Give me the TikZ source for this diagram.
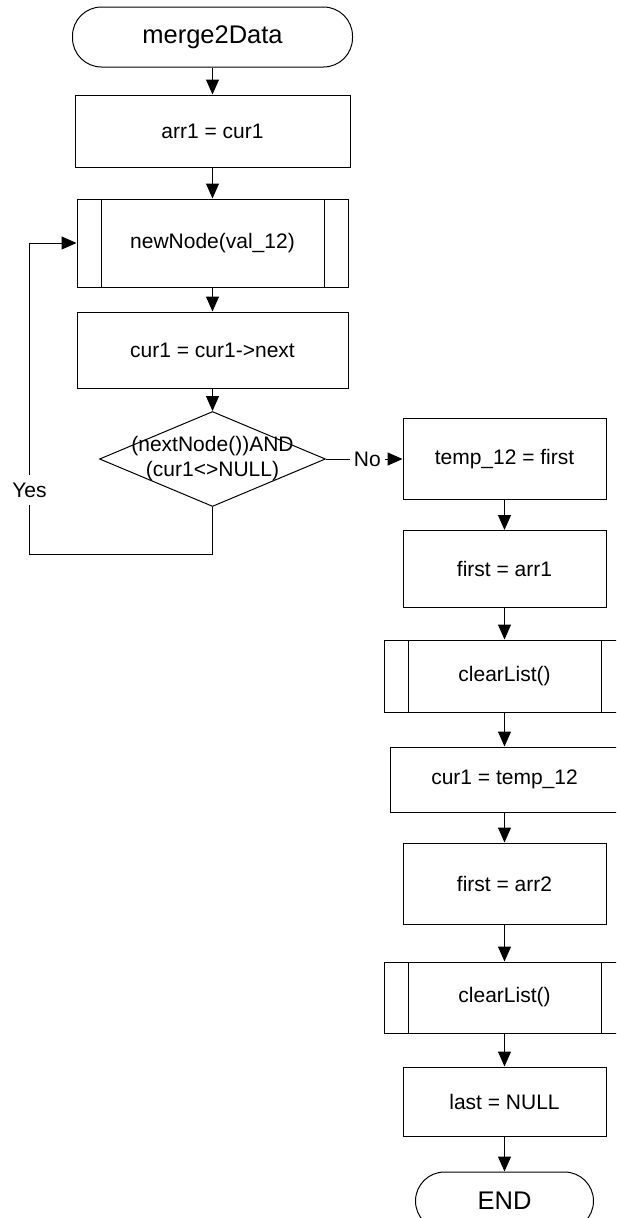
\documentclass[tikz,border=0pt]{standalone}
\usepackage{fontspec}
\setmainfont{Liberation Sans}
\usetikzlibrary{arrows.meta,shapes.geometric}
\begin{document}
\begin{tikzpicture}[x=1pt,y=-1pt,
  every node/.style={inner sep=0pt, font=\fontsize{21}{25}\selectfont},
  box/.style={draw, line width=1pt, rectangle},
  terminal/.style={draw, line width=1pt, rectangle, rounded corners=29pt,
    font=\fontsize{25.5}{30}\selectfont},
  subproc/.style={box, path picture={
    \draw[line width=1pt]
      ([xshift=24pt]path picture bounding box.north west) --
      ([xshift=24pt]path picture bounding box.south west)
      ([xshift=-24pt]path picture bounding box.north east) --
      ([xshift=-24pt]path picture bounding box.south east);}},
  decision/.style={draw, line width=1pt, diamond, inner sep=0pt},
  flow/.style={draw, line width=1pt, -{Triangle[width=13pt,length=15pt]}},
  tag/.style={fill=white, inner xsep=4pt, inner ysep=8pt}]

\clip (0,0) rectangle (616,1218);

% main column
\node[terminal, minimum width=280pt, minimum height=60pt] (start) at (212.5,37) {merge2Data};
\node[box, minimum width=275pt, minimum height=72pt] (a1) at (212.5,131) {arr1 = cur1};
\node[subproc, minimum width=271pt, minimum height=88pt] (nn) at (212.5,243) {newNode(val\_12)};
\node[box, minimum width=271pt, minimum height=76pt] (c1) at (212.5,350) {cur1 = cur1->next};
\node[decision, minimum width=226pt, minimum height=95pt] (dec) at (212.5,459) {};
\node[align=center] (dectext) at (212.5,459) {(nextNode())AND\\(cur1<>NULL)};

% right column
\node[box, minimum width=203pt, minimum height=81pt] (t12) at (504.5,459) {temp\_12 = first};
\node[box, minimum width=203pt, minimum height=77pt] (fa1) at (504.5,569) {first = arr1};
\node[subproc, minimum width=241pt, minimum height=72pt] (cl1) at (504.5,676) {clearList()};
\node[box, minimum width=229pt, minimum height=65pt] (ct) at (504.5,779.5) {cur1 = temp\_12};
\node[box, minimum width=203pt, minimum height=81pt] (fa2) at (504.5,883.5) {first = arr2};
\node[subproc, minimum width=241pt, minimum height=71pt] (cl2) at (504.5,997.5) {clearList()};
\node[box, minimum width=203pt, minimum height=69pt] (ln) at (504.5,1101.5) {last = NULL};
\node[terminal, minimum width=178pt, minimum height=58pt] (fin) at (504.5,1201) {END};

% loop corners
\coordinate (lb) at (29.5,554);
\coordinate (lt) at (29.5,243);

% connectors
\draw[flow] (start.south) -- (a1.north);
\draw[flow] (a1.south) -- (nn.north);
\draw[flow] (nn.south) -- (c1.north);
\draw[flow] (c1.south) -- (dec.north);
\draw[flow] (dec.east) -- node[tag, pos=0.54] {No} (t12.west);
\draw[flow] (dec.south) |- (lb) -- node[tag, pos=0.206] {Yes} (lt) -- (nn.west);
\draw[flow] (t12.south) -- (fa1.north);
\draw[flow] (fa1.south) -- (cl1.north);
\draw[flow] (cl1.south) -- (ct.north);
\draw[flow] (ct.south) -- (fa2.north);
\draw[flow] (fa2.south) -- (cl2.north);
\draw[flow] (cl2.south) -- (ln.north);
\draw[flow] (ln.south) -- (fin.north);
\end{tikzpicture}
\end{document}
